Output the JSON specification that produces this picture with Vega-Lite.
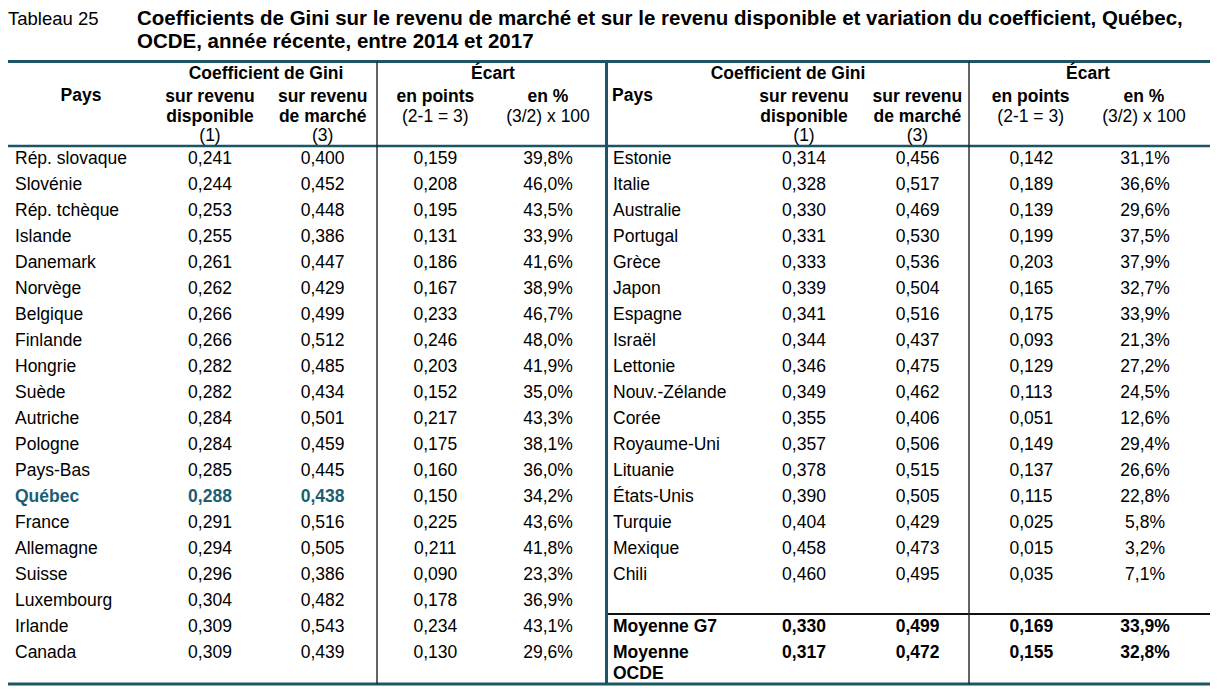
{
  "$schema": "https://vega.github.io/schema/vega-lite/v6.json",
  "width": 1220,
  "height": 695,
  "padding": 0,
  "autosize": {"type": "none"},
  "background": "white",
  "config": {
    "view": {"stroke": null},
    "scale": {"pointPadding": 0},
    "locale": {"number": {"decimal": ",", "thousands": " ", "grouping": [3], "currency": ["", " $"]}},
    "text": {"font": "Liberation Sans", "fontSize": 17.5, "baseline": "alphabetic", "color": "#000000"}
  },
  "datasets": {
    "tableau": [
      {"cote": "gauche", "rang": 1, "pays": "Rép. slovaque", "dispo": 0.241, "marche": 0.400, "points": 0.159, "pct": 0.398},
      {"cote": "gauche", "rang": 2, "pays": "Slovénie", "dispo": 0.244, "marche": 0.452, "points": 0.208, "pct": 0.460},
      {"cote": "gauche", "rang": 3, "pays": "Rép. tchèque", "dispo": 0.253, "marche": 0.448, "points": 0.195, "pct": 0.435},
      {"cote": "gauche", "rang": 4, "pays": "Islande", "dispo": 0.255, "marche": 0.386, "points": 0.131, "pct": 0.339},
      {"cote": "gauche", "rang": 5, "pays": "Danemark", "dispo": 0.261, "marche": 0.447, "points": 0.186, "pct": 0.416},
      {"cote": "gauche", "rang": 6, "pays": "Norvège", "dispo": 0.262, "marche": 0.429, "points": 0.167, "pct": 0.389},
      {"cote": "gauche", "rang": 7, "pays": "Belgique", "dispo": 0.266, "marche": 0.499, "points": 0.233, "pct": 0.467},
      {"cote": "gauche", "rang": 8, "pays": "Finlande", "dispo": 0.266, "marche": 0.512, "points": 0.246, "pct": 0.480},
      {"cote": "gauche", "rang": 9, "pays": "Hongrie", "dispo": 0.282, "marche": 0.485, "points": 0.203, "pct": 0.419},
      {"cote": "gauche", "rang": 10, "pays": "Suède", "dispo": 0.282, "marche": 0.434, "points": 0.152, "pct": 0.350},
      {"cote": "gauche", "rang": 11, "pays": "Autriche", "dispo": 0.284, "marche": 0.501, "points": 0.217, "pct": 0.433},
      {"cote": "gauche", "rang": 12, "pays": "Pologne", "dispo": 0.284, "marche": 0.459, "points": 0.175, "pct": 0.381},
      {"cote": "gauche", "rang": 13, "pays": "Pays-Bas", "dispo": 0.285, "marche": 0.445, "points": 0.160, "pct": 0.360},
      {"cote": "gauche", "rang": 14, "pays": "Québec", "dispo": 0.288, "marche": 0.438, "points": 0.150, "pct": 0.342},
      {"cote": "gauche", "rang": 15, "pays": "France", "dispo": 0.291, "marche": 0.516, "points": 0.225, "pct": 0.436},
      {"cote": "gauche", "rang": 16, "pays": "Allemagne", "dispo": 0.294, "marche": 0.505, "points": 0.211, "pct": 0.418},
      {"cote": "gauche", "rang": 17, "pays": "Suisse", "dispo": 0.296, "marche": 0.386, "points": 0.090, "pct": 0.233},
      {"cote": "gauche", "rang": 18, "pays": "Luxembourg", "dispo": 0.304, "marche": 0.482, "points": 0.178, "pct": 0.369},
      {"cote": "gauche", "rang": 19, "pays": "Irlande", "dispo": 0.309, "marche": 0.543, "points": 0.234, "pct": 0.431},
      {"cote": "gauche", "rang": 20, "pays": "Canada", "dispo": 0.309, "marche": 0.439, "points": 0.130, "pct": 0.296},
      {"cote": "droite", "rang": 1, "pays": "Estonie", "dispo": 0.314, "marche": 0.456, "points": 0.142, "pct": 0.311},
      {"cote": "droite", "rang": 2, "pays": "Italie", "dispo": 0.328, "marche": 0.517, "points": 0.189, "pct": 0.366},
      {"cote": "droite", "rang": 3, "pays": "Australie", "dispo": 0.330, "marche": 0.469, "points": 0.139, "pct": 0.296},
      {"cote": "droite", "rang": 4, "pays": "Portugal", "dispo": 0.331, "marche": 0.530, "points": 0.199, "pct": 0.375},
      {"cote": "droite", "rang": 5, "pays": "Grèce", "dispo": 0.333, "marche": 0.536, "points": 0.203, "pct": 0.379},
      {"cote": "droite", "rang": 6, "pays": "Japon", "dispo": 0.339, "marche": 0.504, "points": 0.165, "pct": 0.327},
      {"cote": "droite", "rang": 7, "pays": "Espagne", "dispo": 0.341, "marche": 0.516, "points": 0.175, "pct": 0.339},
      {"cote": "droite", "rang": 8, "pays": "Israël", "dispo": 0.344, "marche": 0.437, "points": 0.093, "pct": 0.213},
      {"cote": "droite", "rang": 9, "pays": "Lettonie", "dispo": 0.346, "marche": 0.475, "points": 0.129, "pct": 0.272},
      {"cote": "droite", "rang": 10, "pays": "Nouv.-Zélande", "dispo": 0.349, "marche": 0.462, "points": 0.113, "pct": 0.245},
      {"cote": "droite", "rang": 11, "pays": "Corée", "dispo": 0.355, "marche": 0.406, "points": 0.051, "pct": 0.126},
      {"cote": "droite", "rang": 12, "pays": "Royaume-Uni", "dispo": 0.357, "marche": 0.506, "points": 0.149, "pct": 0.294},
      {"cote": "droite", "rang": 13, "pays": "Lituanie", "dispo": 0.378, "marche": 0.515, "points": 0.137, "pct": 0.266},
      {"cote": "droite", "rang": 14, "pays": "États-Unis", "dispo": 0.390, "marche": 0.505, "points": 0.115, "pct": 0.228},
      {"cote": "droite", "rang": 15, "pays": "Turquie", "dispo": 0.404, "marche": 0.429, "points": 0.025, "pct": 0.058},
      {"cote": "droite", "rang": 16, "pays": "Mexique", "dispo": 0.458, "marche": 0.473, "points": 0.015, "pct": 0.032},
      {"cote": "droite", "rang": 17, "pays": "Chili", "dispo": 0.460, "marche": 0.495, "points": 0.035, "pct": 0.071},
      {"cote": "droite", "rang": 19, "pays": "Moyenne G7", "dispo": 0.330, "marche": 0.499, "points": 0.169, "pct": 0.339},
      {"cote": "droite", "rang": 20, "pays": "Moyenne\nOCDE", "dispo": 0.317, "marche": 0.472, "points": 0.155, "pct": 0.328}
    ],
    "entetes": [
      {"cote": "gauche", "cle": "col1", "ligne": 2, "texte": "sur revenu"},
      {"cote": "gauche", "cle": "col1", "ligne": 3, "texte": "disponible"},
      {"cote": "gauche", "cle": "col1", "ligne": 4, "texte": "(1)"},
      {"cote": "gauche", "cle": "col2", "ligne": 2, "texte": "sur revenu"},
      {"cote": "gauche", "cle": "col2", "ligne": 3, "texte": "de marché"},
      {"cote": "gauche", "cle": "col2", "ligne": 4, "texte": "(3)"},
      {"cote": "gauche", "cle": "col3", "ligne": 2, "texte": "en points"},
      {"cote": "gauche", "cle": "col3", "ligne": 3, "texte": "(2-1 = 3)"},
      {"cote": "gauche", "cle": "col4", "ligne": 2, "texte": "en %"},
      {"cote": "gauche", "cle": "col4", "ligne": 3, "texte": "(3/2) x 100"},
      {"cote": "droite", "cle": "col1", "ligne": 2, "texte": "sur revenu"},
      {"cote": "droite", "cle": "col1", "ligne": 3, "texte": "disponible"},
      {"cote": "droite", "cle": "col1", "ligne": 4, "texte": "(1)"},
      {"cote": "droite", "cle": "col2", "ligne": 2, "texte": "sur revenu"},
      {"cote": "droite", "cle": "col2", "ligne": 3, "texte": "de marché"},
      {"cote": "droite", "cle": "col2", "ligne": 4, "texte": "(3)"},
      {"cote": "droite", "cle": "col3", "ligne": 2, "texte": "en points"},
      {"cote": "droite", "cle": "col3", "ligne": 3, "texte": "(2-1 = 3)"},
      {"cote": "droite", "cle": "col4", "ligne": 2, "texte": "en %"},
      {"cote": "droite", "cle": "col4", "ligne": 3, "texte": "(3/2) x 100"}
    ],
    "groupes": [
      {"cote": "gauche", "cle": "gini", "ligne": 1, "texte": "Coefficient de Gini"},
      {"cote": "gauche", "cle": "ecart", "ligne": 1, "texte": "Écart"},
      {"cote": "droite", "cle": "gini", "ligne": 1, "texte": "Coefficient de Gini"},
      {"cote": "droite", "cle": "ecart", "ligne": 1, "texte": "Écart"},
      {"cote": "gauche", "cle": "pays", "ligne": 2, "texte": "Pays"},
      {"cote": "droite", "cle": "pays", "ligne": 2, "texte": "Pays"}
    ],
    "titre": [
      {"bloc": "numero", "ligne": 1, "texte": "Tableau 25"},
      {"bloc": "titre", "ligne": 1, "texte": "Coefficients de Gini sur le revenu de marché et sur le revenu disponible et variation du coefficient, Québec,"},
      {"bloc": "titre", "ligne": 2, "texte": "OCDE, année récente, entre 2014 et 2017"}
    ],
    "traits": [
      {"niveau": "haut", "de": "debut", "a": "fin"},
      {"niveau": "entete", "de": "debut", "a": "fin"},
      {"niveau": "bas", "de": "debut", "a": "fin"},
      {"niveau": "g7", "de": "milieu", "a": "fin"}
    ],
    "separateurs": [
      {"sep": "gauche", "de": "haut", "a": "bas"},
      {"sep": "milieu", "de": "haut", "a": "bas"},
      {"sep": "droite", "de": "haut", "a": "bas"}
    ]
  },
  "resolve": {"scale": {"x": "independent", "y": "independent"}},
  "layer": [
    {
      "data": {"name": "traits"},
      "transform": [{"filter": "datum.niveau === 'haut' || datum.niveau === 'bas'"}],
      "mark": {"type": "rule", "color": "#1c5566", "strokeWidth": 3},
      "encoding": {
        "x": {"field": "de", "type": "nominal", "scale": {"type": "point", "padding": 0, "domain": ["debut", "fin"], "range": [8, 1210]}, "axis": null},
        "x2": {"field": "a"},
        "y": {"field": "niveau", "type": "nominal", "scale": {"type": "point", "padding": 0, "domain": ["haut", "bas"], "range": [61.5, 684]}, "axis": null}
      }
    },
    {
      "data": {"name": "traits"},
      "transform": [{"filter": "datum.niveau === 'entete'"}],
      "mark": {"type": "rule", "color": "#1c5566", "strokeWidth": 2.5},
      "encoding": {
        "x": {"field": "de", "type": "nominal", "scale": {"type": "point", "padding": 0, "domain": ["debut", "fin"], "range": [8, 1210]}, "axis": null},
        "x2": {"field": "a"},
        "y": {"field": "niveau", "type": "nominal", "scale": {"type": "point", "padding": 0, "domain": ["entete"], "range": [146, 146]}, "axis": null}
      }
    },
    {
      "data": {"name": "traits"},
      "transform": [{"filter": "datum.niveau === 'g7'"}],
      "mark": {"type": "rule", "color": "#111111", "strokeWidth": 2},
      "encoding": {
        "x": {"field": "de", "type": "nominal", "scale": {"type": "point", "padding": 0, "domain": ["milieu", "fin"], "range": [607, 1210]}, "axis": null},
        "x2": {"field": "a"},
        "y": {"field": "niveau", "type": "nominal", "scale": {"type": "point", "padding": 0, "domain": ["g7"], "range": [614, 614]}, "axis": null}
      }
    },
    {
      "data": {"name": "separateurs"},
      "transform": [{"filter": "datum.sep !== 'milieu'"}],
      "mark": {"type": "rule", "color": "#222222", "strokeWidth": 1.4},
      "encoding": {
        "x": {"field": "sep", "type": "nominal", "scale": {"type": "point", "padding": 0, "domain": ["gauche", "droite"], "range": [377, 969]}, "axis": null},
        "y": {"field": "de", "type": "nominal", "scale": {"type": "point", "padding": 0, "domain": ["haut", "bas"], "range": [61.5, 684]}, "axis": null},
        "y2": {"field": "a"}
      }
    },
    {
      "data": {"name": "separateurs"},
      "transform": [{"filter": "datum.sep === 'milieu'"}],
      "mark": {"type": "rule", "color": "#1c5566", "strokeWidth": 3},
      "encoding": {
        "x": {"field": "sep", "type": "nominal", "scale": {"type": "point", "padding": 0, "domain": ["milieu"], "range": [606.5, 606.5]}, "axis": null},
        "y": {"field": "de", "type": "nominal", "scale": {"type": "point", "padding": 0, "domain": ["haut", "bas"], "range": [61.5, 684]}, "axis": null},
        "y2": {"field": "a"}
      }
    },
    {
      "data": {"name": "titre"},
      "transform": [{"filter": "datum.bloc === 'numero'"}],
      "mark": {"type": "text", "align": "left", "fontSize": 18.5},
      "encoding": {
        "x": {"field": "bloc", "type": "nominal", "scale": {"type": "point", "padding": 0, "domain": ["numero", "titre"], "range": [8, 137]}, "axis": null},
        "y": {"field": "ligne", "type": "ordinal", "scale": {"type": "point", "padding": 0, "domain": [1, 2], "range": [25, 48]}, "axis": null},
        "text": {"field": "texte"}
      }
    },
    {
      "data": {"name": "titre"},
      "transform": [{"filter": "datum.bloc === 'titre'"}],
      "mark": {"type": "text", "align": "left", "fontSize": 20.5, "fontWeight": "bold"},
      "encoding": {
        "x": {"field": "bloc", "type": "nominal", "scale": {"type": "point", "padding": 0, "domain": ["numero", "titre"], "range": [8, 137]}, "axis": null},
        "y": {"field": "ligne", "type": "ordinal", "scale": {"type": "point", "padding": 0, "domain": [1, 2], "range": [25, 48]}, "axis": null},
        "text": {"field": "texte"}
      }
    },
    {
      "data": {"name": "groupes"},
      "transform": [{"filter": "datum.cote === 'gauche' && datum.cle !== 'pays'"}],
      "mark": {"type": "text", "align": "center", "fontWeight": "bold"},
      "encoding": {
        "x": {"field": "cle", "type": "nominal", "scale": {"type": "point", "padding": 0, "domain": ["gini", "ecart"], "range": [266, 493]}, "axis": null},
        "y": {"field": "ligne", "type": "ordinal", "scale": {"type": "point", "padding": 0, "domain": [1], "range": [79, 79]}, "axis": null},
        "text": {"field": "texte"}
      }
    },
    {
      "data": {"name": "groupes"},
      "transform": [{"filter": "datum.cote === 'droite' && datum.cle !== 'pays'"}],
      "mark": {"type": "text", "align": "center", "fontWeight": "bold"},
      "encoding": {
        "x": {"field": "cle", "type": "nominal", "scale": {"type": "point", "padding": 0, "domain": ["gini", "ecart"], "range": [788, 1088]}, "axis": null},
        "y": {"field": "ligne", "type": "ordinal", "scale": {"type": "point", "padding": 0, "domain": [1], "range": [79, 79]}, "axis": null},
        "text": {"field": "texte"}
      }
    },
    {
      "data": {"name": "groupes"},
      "transform": [{"filter": "datum.cote === 'gauche' && datum.cle === 'pays'"}],
      "mark": {"type": "text", "align": "center", "fontWeight": "bold"},
      "encoding": {
        "x": {"field": "cote", "type": "nominal", "scale": {"type": "point", "padding": 0, "domain": ["gauche"], "range": [81, 81]}, "axis": null},
        "y": {"field": "ligne", "type": "ordinal", "scale": {"type": "point", "padding": 0, "domain": [2], "range": [101, 101]}, "axis": null},
        "text": {"field": "texte"}
      }
    },
    {
      "data": {"name": "groupes"},
      "transform": [{"filter": "datum.cote === 'droite' && datum.cle === 'pays'"}],
      "mark": {"type": "text", "align": "left", "fontWeight": "bold"},
      "encoding": {
        "x": {"field": "cote", "type": "nominal", "scale": {"type": "point", "padding": 0, "domain": ["droite"], "range": [612, 612]}, "axis": null},
        "y": {"field": "ligne", "type": "ordinal", "scale": {"type": "point", "padding": 0, "domain": [2], "range": [101, 101]}, "axis": null},
        "text": {"field": "texte"}
      }
    },
    {
      "data": {"name": "entetes"},
      "transform": [{"filter": "datum.cote === 'gauche' && (datum.ligne === 2 || (datum.ligne === 3 && (datum.cle === 'col1' || datum.cle === 'col2')))"}],
      "mark": {"type": "text", "align": "center", "fontWeight": "bold"},
      "encoding": {
        "x": {"field": "cle", "type": "nominal", "scale": {"type": "point", "padding": 0, "domain": ["col1", "col2", "col3", "col4"], "range": [210, 548]}, "axis": null},
        "y": {"field": "ligne", "type": "ordinal", "scale": {"type": "point", "padding": 0, "domain": [2, 3, 4], "range": [102, 141]}, "axis": null},
        "text": {"field": "texte"}
      }
    },
    {
      "data": {"name": "entetes"},
      "transform": [{"filter": "datum.cote === 'gauche' && !(datum.ligne === 2 || (datum.ligne === 3 && (datum.cle === 'col1' || datum.cle === 'col2')))"}],
      "mark": {"type": "text", "align": "center"},
      "encoding": {
        "x": {"field": "cle", "type": "nominal", "scale": {"type": "point", "padding": 0, "domain": ["col1", "col2", "col3", "col4"], "range": [210, 548]}, "axis": null},
        "y": {"field": "ligne", "type": "ordinal", "scale": {"type": "point", "padding": 0, "domain": [2, 3, 4], "range": [102, 141]}, "axis": null},
        "text": {"field": "texte"}
      }
    },
    {
      "data": {"name": "entetes"},
      "transform": [{"filter": "datum.cote === 'droite' && (datum.ligne === 2 || (datum.ligne === 3 && (datum.cle === 'col1' || datum.cle === 'col2')))"}],
      "mark": {"type": "text", "align": "center", "fontWeight": "bold"},
      "encoding": {
        "x": {"field": "cle", "type": "nominal", "scale": {"type": "point", "padding": 0, "domain": ["col1", "col2", "col3", "col4"], "range": [804, 1144]}, "axis": null},
        "y": {"field": "ligne", "type": "ordinal", "scale": {"type": "point", "padding": 0, "domain": [2, 3, 4], "range": [102, 141]}, "axis": null},
        "text": {"field": "texte"}
      }
    },
    {
      "data": {"name": "entetes"},
      "transform": [{"filter": "datum.cote === 'droite' && !(datum.ligne === 2 || (datum.ligne === 3 && (datum.cle === 'col1' || datum.cle === 'col2')))"}],
      "mark": {"type": "text", "align": "center"},
      "encoding": {
        "x": {"field": "cle", "type": "nominal", "scale": {"type": "point", "padding": 0, "domain": ["col1", "col2", "col3", "col4"], "range": [804, 1144]}, "axis": null},
        "y": {"field": "ligne", "type": "ordinal", "scale": {"type": "point", "padding": 0, "domain": [2, 3, 4], "range": [102, 141]}, "axis": null},
        "text": {"field": "texte"}
      }
    },
    {
      "data": {"name": "tableau"},
      "transform": [{"filter": "datum.pays !== 'Québec' && !(datum.cote === 'droite' && datum.rang >= 19)"}],
      "mark": {"type": "text", "align": "left"},
      "encoding": {
        "x": {"field": "cote", "type": "nominal", "scale": {"type": "point", "padding": 0, "domain": ["gauche", "droite"], "range": [15, 613]}, "axis": null},
        "y": {"field": "rang", "type": "ordinal", "scale": {"type": "point", "padding": 0, "domain": [1, 2, 3, 4, 5, 6, 7, 8, 9, 10, 11, 12, 13, 14, 15, 16, 17, 18, 19, 20], "range": [164, 658]}, "axis": null},
        "text": {"field": "pays"}
      }
    },
    {
      "data": {"name": "tableau"},
      "transform": [{"filter": "datum.pays === 'Québec' || (datum.cote === 'droite' && datum.rang >= 19)"}],
      "mark": {"type": "text", "align": "left", "fontWeight": "bold", "lineBreak": "\n", "lineHeight": 21},
      "encoding": {
        "x": {"field": "cote", "type": "nominal", "scale": {"type": "point", "padding": 0, "domain": ["gauche", "droite"], "range": [15, 613]}, "axis": null},
        "y": {"field": "rang", "type": "ordinal", "scale": {"type": "point", "padding": 0, "domain": [1, 2, 3, 4, 5, 6, 7, 8, 9, 10, 11, 12, 13, 14, 15, 16, 17, 18, 19, 20], "range": [164, 658]}, "axis": null},
        "text": {"field": "pays"},
        "color": {"condition": {"test": "datum.pays === 'Québec'", "value": "#1a5e75"}, "value": "#000000"}
      }
    },
    {
      "data": {"name": "tableau"},
      "transform": [
        {"filter": "datum.cote === 'gauche'"},
        {"fold": ["dispo", "marche", "points"], "as": ["col", "val"]},
        {"filter": "!(datum.pays === 'Québec' && datum.col !== 'points')"}
      ],
      "mark": {"type": "text", "align": "center"},
      "encoding": {
        "x": {"field": "col", "type": "nominal", "scale": {"type": "point", "padding": 0, "domain": ["dispo", "marche", "points", "pct"], "range": [210, 548]}, "axis": null},
        "y": {"field": "rang", "type": "ordinal", "scale": {"type": "point", "padding": 0, "domain": [1, 2, 3, 4, 5, 6, 7, 8, 9, 10, 11, 12, 13, 14, 15, 16, 17, 18, 19, 20], "range": [164, 658]}, "axis": null},
        "text": {"field": "val", "type": "quantitative", "format": ".3f"}
      }
    },
    {
      "data": {"name": "tableau"},
      "transform": [
        {"filter": "datum.cote === 'gauche'"},
        {"fold": ["pct"], "as": ["col", "val"]}
      ],
      "mark": {"type": "text", "align": "center"},
      "encoding": {
        "x": {"field": "col", "type": "nominal", "scale": {"type": "point", "padding": 0, "domain": ["dispo", "marche", "points", "pct"], "range": [210, 548]}, "axis": null},
        "y": {"field": "rang", "type": "ordinal", "scale": {"type": "point", "padding": 0, "domain": [1, 2, 3, 4, 5, 6, 7, 8, 9, 10, 11, 12, 13, 14, 15, 16, 17, 18, 19, 20], "range": [164, 658]}, "axis": null},
        "text": {"field": "val", "type": "quantitative", "format": ".1%"}
      }
    },
    {
      "data": {"name": "tableau"},
      "transform": [
        {"filter": "datum.pays === 'Québec'"},
        {"fold": ["dispo", "marche"], "as": ["col", "val"]}
      ],
      "mark": {"type": "text", "align": "center", "fontWeight": "bold", "color": "#1a5e75"},
      "encoding": {
        "x": {"field": "col", "type": "nominal", "scale": {"type": "point", "padding": 0, "domain": ["dispo", "marche", "points", "pct"], "range": [210, 548]}, "axis": null},
        "y": {"field": "rang", "type": "ordinal", "scale": {"type": "point", "padding": 0, "domain": [1, 2, 3, 4, 5, 6, 7, 8, 9, 10, 11, 12, 13, 14, 15, 16, 17, 18, 19, 20], "range": [164, 658]}, "axis": null},
        "text": {"field": "val", "type": "quantitative", "format": ".3f"}
      }
    },
    {
      "data": {"name": "tableau"},
      "transform": [
        {"filter": "datum.cote === 'droite' && datum.rang <= 17"},
        {"fold": ["dispo", "marche", "points"], "as": ["col", "val"]}
      ],
      "mark": {"type": "text", "align": "center"},
      "encoding": {
        "x": {"field": "col", "type": "nominal", "scale": {"type": "point", "padding": 0, "domain": ["dispo", "marche", "points", "pct"], "range": [804, 1145]}, "axis": null},
        "y": {"field": "rang", "type": "ordinal", "scale": {"type": "point", "padding": 0, "domain": [1, 2, 3, 4, 5, 6, 7, 8, 9, 10, 11, 12, 13, 14, 15, 16, 17, 18, 19, 20], "range": [164, 658]}, "axis": null},
        "text": {"field": "val", "type": "quantitative", "format": ".3f"}
      }
    },
    {
      "data": {"name": "tableau"},
      "transform": [
        {"filter": "datum.cote === 'droite' && datum.rang <= 17"},
        {"fold": ["pct"], "as": ["col", "val"]}
      ],
      "mark": {"type": "text", "align": "center"},
      "encoding": {
        "x": {"field": "col", "type": "nominal", "scale": {"type": "point", "padding": 0, "domain": ["dispo", "marche", "points", "pct"], "range": [804, 1145]}, "axis": null},
        "y": {"field": "rang", "type": "ordinal", "scale": {"type": "point", "padding": 0, "domain": [1, 2, 3, 4, 5, 6, 7, 8, 9, 10, 11, 12, 13, 14, 15, 16, 17, 18, 19, 20], "range": [164, 658]}, "axis": null},
        "text": {"field": "val", "type": "quantitative", "format": ".1%"}
      }
    },
    {
      "data": {"name": "tableau"},
      "transform": [
        {"filter": "datum.cote === 'droite' && datum.rang >= 19"},
        {"fold": ["dispo", "marche", "points"], "as": ["col", "val"]}
      ],
      "mark": {"type": "text", "align": "center", "fontWeight": "bold"},
      "encoding": {
        "x": {"field": "col", "type": "nominal", "scale": {"type": "point", "padding": 0, "domain": ["dispo", "marche", "points", "pct"], "range": [804, 1145]}, "axis": null},
        "y": {"field": "rang", "type": "ordinal", "scale": {"type": "point", "padding": 0, "domain": [1, 2, 3, 4, 5, 6, 7, 8, 9, 10, 11, 12, 13, 14, 15, 16, 17, 18, 19, 20], "range": [164, 658]}, "axis": null},
        "text": {"field": "val", "type": "quantitative", "format": ".3f"}
      }
    },
    {
      "data": {"name": "tableau"},
      "transform": [
        {"filter": "datum.cote === 'droite' && datum.rang >= 19"},
        {"fold": ["pct"], "as": ["col", "val"]}
      ],
      "mark": {"type": "text", "align": "center", "fontWeight": "bold"},
      "encoding": {
        "x": {"field": "col", "type": "nominal", "scale": {"type": "point", "padding": 0, "domain": ["dispo", "marche", "points", "pct"], "range": [804, 1145]}, "axis": null},
        "y": {"field": "rang", "type": "ordinal", "scale": {"type": "point", "padding": 0, "domain": [1, 2, 3, 4, 5, 6, 7, 8, 9, 10, 11, 12, 13, 14, 15, 16, 17, 18, 19, 20], "range": [164, 658]}, "axis": null},
        "text": {"field": "val", "type": "quantitative", "format": ".1%"}
      }
    }
  ]
}
